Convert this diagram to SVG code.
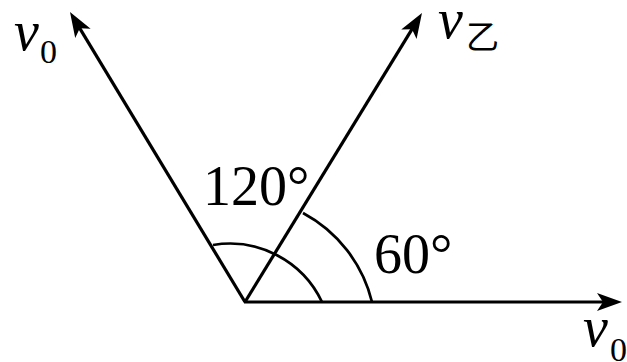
<svg xmlns="http://www.w3.org/2000/svg" width="627" height="362" viewBox="0 0 627 362">
<style>
.ln{stroke:#000;stroke-width:3.2;fill:none}
.arc{stroke:#000;stroke-width:2.7;fill:none}
.t{font-family:"Liberation Serif","Times New Roman",serif;fill:#000}
.v{font-style:italic;font-size:56px}
.sub{font-size:34px}
.num{font-size:56px}
.cjk{font-family:"Noto Sans CJK SC","Noto Sans CJK JP",sans-serif;font-size:33px;fill:#000}
</style>
<defs>
<marker id="ah" markerUnits="userSpaceOnUse" viewBox="-26 -10 28 20" refX="-12" refY="0" markerWidth="28" markerHeight="20" orient="auto">
<path d="M0,0 L-25,-9 L-19,0 L-25,9 Z" fill="#000"/>
</marker>
</defs>
<rect width="627" height="362" fill="#fff"/>
<g id="connectors">
<line class="ln" x1="244" y1="302" x2="610" y2="302" marker-end="url(#ah)"/>
<line class="ln" x1="245" y1="302" x2="76.2" y2="22.3" marker-end="url(#ah)"/>
<line class="ln" x1="245" y1="302" x2="415.7" y2="23.2" marker-end="url(#ah)"/>
<path class="arc" d="M322,302 A102,102 0 0 0 213,245"/>
<path class="arc" d="M372,302 A138,138 0 0 0 303,213"/>
</g>
<g id="label-v0-left"><text class="t v" x="14" y="50">v</text><text class="t sub" x="40" y="63">0</text></g>
<g id="label-v-yi"><text class="t v" x="438" y="38">v</text><text class="cjk" x="466" y="49">乙</text></g>
<g id="label-v0-right"><text class="t v" x="583" y="346">v</text><text class="t sub" x="610" y="361">0</text></g>
<g id="label-120"><text class="t num" x="203" y="205">120°</text></g>
<g id="label-60"><text class="t num" x="374" y="273">60°</text></g>
</svg>
